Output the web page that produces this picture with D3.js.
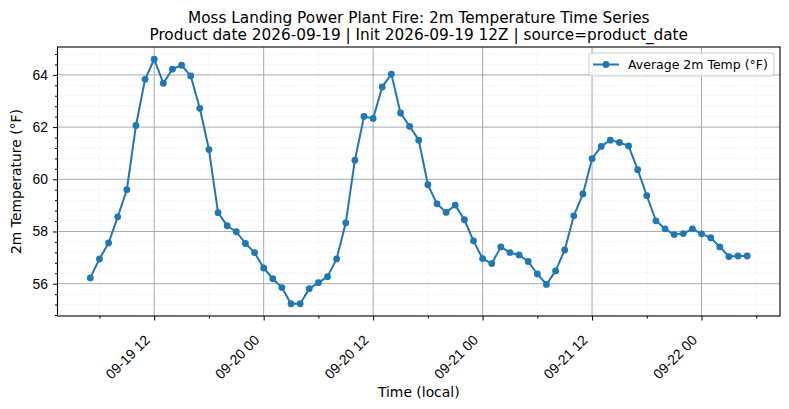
<!DOCTYPE html>
<html>
<head>
<meta charset="utf-8">
<script src="https://cdn.jsdelivr.net/npm/d3@7"></script>
<style>
  body { margin: 0; background: #fff; }
  svg { font-family: "DejaVu Sans", sans-serif; }
</style>
</head>
<body>
<svg id="chart" width="789" height="409"></svg>
<script>
// hourly series, first point 2026-09-19 05:00 local
const startTime = new Date(2026, 8, 19, 5);
const temps = [
  56.22, 56.95, 57.56, 58.56, 59.60, 62.06, 63.83, 64.60, 63.68, 64.22,
  64.37, 63.96, 62.72, 61.14, 58.72, 58.22, 57.99, 57.54, 57.19, 56.60,
  56.19, 55.85, 55.23, 55.23, 55.81, 56.04, 56.27, 56.95, 58.33, 60.73,
  62.41, 62.33, 63.54, 64.03, 62.54, 62.03, 61.50, 59.79, 59.06, 58.73,
  59.01, 58.45, 57.64, 56.96, 56.77, 57.41, 57.19, 57.10, 56.85, 56.37,
  55.97, 56.49, 57.29, 58.60, 59.44, 60.79, 61.26, 61.50, 61.41, 61.28,
  60.37, 59.37, 58.41, 58.10, 57.88, 57.92, 58.10, 57.91, 57.76, 57.41,
  57.04, 57.06, 57.06
];
const titleLines = [
  "Moss Landing Power Plant Fire: 2m Temperature Time Series",
  "Product date 2026-09-19 | Init 2026-09-19 12Z | source=product_date"
];
const seriesName = "Average 2m Temp (°F)";
const yTicks = [56, 58, 60, 62, 64];

const data = temps.map((v, i) => ({ t: d3.timeHour.offset(startTime, i), v: v }));

const svg = d3.select("#chart");
const pLeft = 57.5, pRight = 780, pTop = 47, pBottom = 316;
const blue = "#1f77b4";

// matplotlib-like 5% margins
const tExt = d3.extent(data, d => d.t);
const tPad = (tExt[1] - tExt[0]) * 0.05;
const x = d3.scaleTime()
  .domain([new Date(+tExt[0] - tPad), new Date(+tExt[1] + tPad)])
  .range([pLeft, pRight]);
const vExt = d3.extent(temps);
const vPad = (vExt[1] - vExt[0]) * 0.05;
const y = d3.scaleLinear()
  .domain([vExt[0] - vPad, vExt[1] + vPad])
  .range([pBottom, pTop]);

const majorX = x.ticks(d3.timeHour.every(12));
const minorX = x.ticks(d3.timeHour.every(6)).filter(t => t.getHours() % 12 != 0);
const minorY = d3.range(54.8, 65.2, 0.4).map(v => +v.toFixed(1))
  .filter(v => v >= y.domain()[0] && v <= y.domain()[1] && !yTicks.some(t => Math.abs(t - v) < 1e-6));

// grid
const grid = svg.append("g");
grid.selectAll(".mnx").data(minorX).enter().append("line")
  .attr("x1", d => x(d)).attr("x2", d => x(d)).attr("y1", pTop).attr("y2", pBottom)
  .attr("stroke", "#ddd").attr("stroke-width", 0.6).attr("stroke-dasharray", "1,1.5");
grid.selectAll(".mny").data(minorY).enter().append("line")
  .attr("x1", pLeft).attr("x2", pRight).attr("y1", d => y(d)).attr("y2", d => y(d))
  .attr("stroke", "#ddd").attr("stroke-width", 0.6).attr("stroke-dasharray", "1,1.5");
grid.selectAll(".mjx").data(majorX).enter().append("line")
  .attr("x1", d => x(d)).attr("x2", d => x(d)).attr("y1", pTop).attr("y2", pBottom)
  .attr("stroke", "#a0a0a0").attr("stroke-width", 0.9);
grid.selectAll(".mjy").data(yTicks).enter().append("line")
  .attr("x1", pLeft).attr("x2", pRight).attr("y1", d => y(d)).attr("y2", d => y(d))
  .attr("stroke", "#a0a0a0").attr("stroke-width", 0.9);

// axes
const fmt = d3.timeFormat("%m-%d %H");
const xAxis = svg.append("g").attr("transform", `translate(0,${pBottom})`)
  .call(d3.axisBottom(x).tickValues(majorX).tickFormat(fmt).tickSizeInner(4.5).tickSizeOuter(0));
xAxis.select(".domain").remove();
xAxis.selectAll(".tick line").attr("stroke", "#000").attr("stroke-width", 1);
xAxis.selectAll(".tick text")
  .attr("font-size", 14).attr("fill", "#000")
  .attr("text-anchor", "end")
  .attr("y", 0).attr("dy", 0)
  .attr("transform", "translate(-4,25) rotate(-45)");
svg.append("g").attr("transform", `translate(0,${pBottom})`)
  .call(d3.axisBottom(x).tickValues(minorX).tickFormat("").tickSizeInner(2.5).tickSizeOuter(0))
  .call(g => g.select(".domain").remove());

const yAxis = svg.append("g").attr("transform", `translate(${pLeft},0)`)
  .call(d3.axisLeft(y).tickValues(yTicks).tickFormat(d3.format("d")).tickSizeInner(4.5).tickSizeOuter(0).tickPadding(5));
yAxis.select(".domain").remove();
yAxis.selectAll(".tick text").attr("font-size", 13.9).attr("fill", "#000");
svg.append("g").attr("transform", `translate(${pLeft},0)`)
  .call(d3.axisLeft(y).tickValues(minorY).tickFormat("").tickSizeInner(2.5).tickSizeOuter(0))
  .call(g => g.select(".domain").remove());

// series
svg.append("path").datum(data)
  .attr("fill", "none").attr("stroke", blue).attr("stroke-width", 2)
  .attr("stroke-linejoin", "round")
  .attr("d", d3.line().x(d => x(d.t)).y(d => y(d.v)));
svg.selectAll(".pt").data(data).enter().append("circle")
  .attr("cx", d => x(d.t)).attr("cy", d => y(d.v)).attr("r", 3.4)
  .attr("fill", blue);

// frame
svg.append("rect").attr("x", pLeft).attr("y", pTop)
  .attr("width", pRight - pLeft).attr("height", pBottom - pTop)
  .attr("fill", "none").attr("stroke", "#000").attr("stroke-width", 1.1);

// title
svg.selectAll(".title").data(titleLines).enter().append("text")
  .attr("x", (pLeft + pRight) / 2).attr("y", (d, i) => 23 + i * 16.7)
  .attr("text-anchor", "middle").attr("font-size", 15.3).attr("fill", "#000")
  .text(d => d);

// axis labels
svg.append("text").attr("x", (pLeft + pRight) / 2).attr("y", 397)
  .attr("text-anchor", "middle").attr("font-size", 13.9).text("Time (local)");
svg.append("text").attr("transform", `translate(21,${(pTop + pBottom) / 2}) rotate(-90)`)
  .attr("text-anchor", "middle").attr("font-size", 13.9).text("2m Temperature (°F)");

// legend
const lg = svg.append("g");
lg.append("rect").attr("x", 589).attr("y", 53).attr("width", 185).attr("height", 23)
  .attr("rx", 2.5).attr("fill", "#fff").attr("fill-opacity", 0.8)
  .attr("stroke", "#ccc").attr("stroke-width", 1);
lg.append("line").attr("x1", 593).attr("x2", 619).attr("y1", 64.5).attr("y2", 64.5)
  .attr("stroke", blue).attr("stroke-width", 2);
lg.append("circle").attr("cx", 606).attr("cy", 64.5).attr("r", 3.4).attr("fill", blue);
lg.append("text").attr("x", 628).attr("y", 69).attr("font-size", 12.5).attr("fill", "#000")
  .text(seriesName);
</script>
</body>
</html>
